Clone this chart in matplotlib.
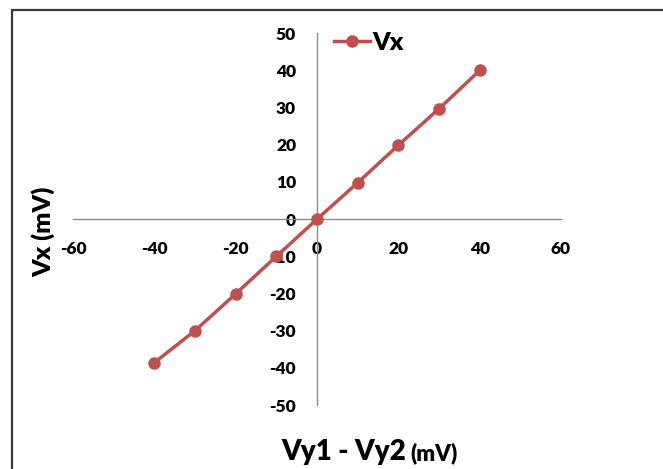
import matplotlib
matplotlib.use("Agg")
import matplotlib.pyplot as plt
from matplotlib.patches import Rectangle

# Differential input (mV) and measured output Vx (mV)
vy_diff = [-40, -30, -20, -10, 0, 10, 20, 30, 40]
vx = [-38.6, -30.0, -20.1, -10.0, 0.0, 9.8, 19.9, 29.7, 40.0]

x_ticks = [-60, -40, -20, 0, 20, 40, 60]
y_ticks = [-50, -40, -30, -20, -10, 0, 10, 20, 30, 40, 50]

plt.rcParams['font.family'] = ['Lato', 'DejaVu Sans']
plt.rcParams['font.weight'] = 'bold'

W, H = 663, 469
fig = plt.figure(figsize=(W / 100, H / 100), dpi=100)
ax = fig.add_axes([73 / W, 1 - 405 / H, 488 / W, (405 - 33.3) / H])

line_color = '#C0504D'
axis_color = '#8C8C8C'
heavy = 'heavy'

ax.plot(vy_diff, vx, color=line_color, lw=2.5, marker='o', ms=8,
        markerfacecolor=line_color, markeredgecolor=line_color, label='Vx',
        zorder=3)

ax.set_xlim(-60, 60)
ax.set_ylim(-50, 50)
ax.set_xticks(x_ticks)
ax.set_yticks(y_ticks)
ax.set_xticklabels([str(v) for v in x_ticks])
ax.set_yticklabels([str(v) for v in y_ticks])

# Axes crossing at the origin
ax.spines['left'].set_position(('data', 0))
ax.spines['bottom'].set_position(('data', 0))
ax.spines['right'].set_visible(False)
ax.spines['top'].set_visible(False)
for side in ('left', 'bottom'):
    ax.spines[side].set_color(axis_color)
    ax.spines[side].set_linewidth(1.0)
ax.set_zorder(1)

ax.tick_params(axis='x', length=0, pad=16, labelsize=12.5)
ax.tick_params(axis='y', length=0, pad=15, labelsize=12.5)
for lbl in ax.get_xticklabels() + ax.get_yticklabels():
    lbl.set_fontweight(heavy)

ax.legend(loc='center left', bbox_to_anchor=(334 / W, 1 - 43 / H),
          bbox_transform=fig.transFigure, frameon=False,
          prop={'size': 18, 'weight': heavy}, handlelength=1.45,
          handletextpad=0.1, borderpad=0, borderaxespad=0)

# Axis titles
fig.text(43 / W, 1 - 232 / H, 'Vx (mV)', rotation=90, ha='center',
         va='center', fontsize=18, fontweight=heavy)
fig.text(406 / W, 1 - 460 / H, 'Vy1 - Vy2', ha='right', va='baseline',
         fontsize=20, fontweight=heavy)
fig.text(410 / W, 1 - 460 / H, '(mV)', ha='left', va='baseline',
         fontsize=16, fontweight=heavy)

# Chart-area frame
fig.patches.append(Rectangle((12 / W, -0.1), 1.2, 1.1 - 10 / H,
                             transform=fig.transFigure, fill=False,
                             edgecolor='#3A3A3A', linewidth=1.6))

fig.savefig('out.png', dpi=100)
